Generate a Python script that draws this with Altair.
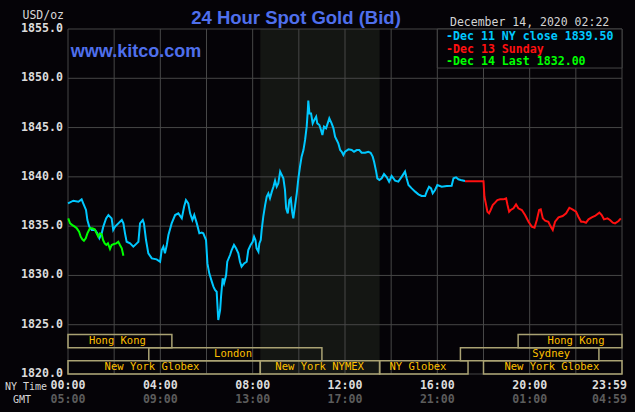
import altair as alt
import pandas as pd

# ---------------- data ----------------
dec11_hours = [0.0, 0.23, 0.45, 0.59, 0.66, 0.78, 0.84, 0.92, 1.03, 1.17, 1.27, 1.36, 1.46, 1.53, 1.65, 1.75, 1.89, 1.96, 2.04, 2.18,
               2.33, 2.40, 2.47, 2.54, 2.69, 2.83, 2.98, 3.05, 3.12, 3.24, 3.29, 3.38, 3.48, 3.63, 3.84, 3.99, 4.06, 4.13, 4.20, 4.28,
               4.35, 4.49, 4.64, 4.78, 4.93, 5.03, 5.11, 5.21, 5.29, 5.39, 5.47, 5.58, 5.69, 5.79, 5.86, 5.98, 6.04, 6.12, 6.23, 6.30,
               6.37, 6.44, 6.51, 6.59, 6.63, 6.70, 6.76, 6.85, 6.90, 7.02, 7.09, 7.19, 7.28, 7.38, 7.45, 7.52, 7.63, 7.74, 7.81, 7.91,
               8.00, 8.06, 8.12, 8.17, 8.25, 8.29, 8.35, 8.39, 8.46, 8.54, 8.61, 8.68, 8.75, 8.83, 8.90, 8.97, 9.04, 9.11, 9.19, 9.26,
               9.33, 9.40, 9.45, 9.52, 9.59, 9.65, 9.71, 9.76, 9.84, 9.91, 9.98, 10.05, 10.12, 10.20, 10.27, 10.34, 10.39, 10.41, 10.46, 10.53,
               10.60, 10.67, 10.75, 10.80, 10.89, 10.96, 11.02, 11.09, 11.18, 11.25, 11.32, 11.42, 11.50, 11.57, 11.64, 11.71, 11.79, 11.86, 11.93, 12.00,
               12.15, 12.29, 12.39, 12.51, 12.62, 12.72, 12.87, 13.01, 13.11, 13.20, 13.26, 13.35, 13.40, 13.49, 13.59, 13.69, 13.81, 13.91, 14.02, 14.17,
               14.31, 14.46, 14.60, 14.67, 14.75, 14.89, 15.04, 15.18, 15.32, 15.47, 15.54, 15.64, 15.73, 15.80, 15.90, 16.00, 16.19, 16.41, 16.62, 16.70,
               16.81, 16.91, 17.01, 17.20]
dec11_prices = [1837.31, 1837.58, 1837.48, 1837.72, 1837.31, 1836.64, 1835.62, 1834.95, 1834.61, 1834.61, 1834.27, 1833.76, 1834.27, 1834.95, 1835.79, 1836.13, 1835.79, 1834.61, 1834.95, 1835.28,
                1835.62, 1835.28, 1834.27, 1833.42, 1833.25, 1832.92, 1833.25, 1833.42, 1835.28, 1835.62, 1835.28, 1833.59, 1832.24, 1831.73, 1831.63, 1831.39, 1832.58, 1832.92, 1832.24, 1833.09,
                1834.10, 1835.28, 1836.13, 1836.30, 1835.79, 1836.97, 1837.65, 1837.31, 1836.30, 1835.62, 1836.13, 1835.28, 1834.27, 1834.34, 1834.27, 1833.59, 1831.22, 1830.21, 1829.37, 1828.86,
                1828.52, 1828.35, 1825.48, 1826.49, 1827.84, 1829.70, 1829.20, 1830.04, 1831.39, 1832.07, 1832.58, 1833.09, 1832.75, 1832.24, 1831.39, 1830.89, 1831.22, 1831.39, 1832.58, 1833.09,
                1833.42, 1833.93, 1833.59, 1832.75, 1832.41, 1833.25, 1833.59, 1834.61, 1835.96, 1837.14, 1837.99, 1838.33, 1837.82, 1838.50, 1839.00, 1839.61, 1839.00, 1839.34, 1840.53, 1840.19,
                1839.85, 1838.67, 1836.80, 1836.30, 1837.65, 1837.82, 1836.47, 1835.79, 1837.14, 1838.33, 1839.85, 1841.03, 1842.05, 1842.72, 1843.74, 1845.09, 1846.78, 1847.73, 1846.44, 1846.44,
                1845.43, 1845.77, 1846.10, 1845.43, 1845.26, 1844.75, 1844.25, 1845.09, 1844.92, 1845.43, 1845.94, 1845.43, 1844.92, 1844.08, 1843.74, 1843.40, 1842.72, 1842.55, 1842.22, 1842.55,
                1842.79, 1842.72, 1842.55, 1842.72, 1842.72, 1842.45, 1842.45, 1842.55, 1842.45, 1842.05, 1841.54, 1840.53, 1839.85, 1839.68, 1839.85, 1840.29, 1839.95, 1839.51, 1840.09, 1839.61,
                1839.51, 1840.02, 1840.53, 1839.85, 1839.17, 1838.83, 1838.50, 1838.23, 1838.06, 1838.06, 1838.50, 1839.00, 1838.83, 1838.33, 1838.67, 1839.17, 1839.00, 1839.07, 1839.10, 1839.85,
                1839.95, 1839.75, 1839.68, 1839.58]

dec13_hours = [17.20, 18.00, 18.04, 18.10, 18.17, 18.24, 18.31, 18.40, 18.50, 18.60, 18.72, 18.86, 18.98, 19.04, 19.11, 19.18, 19.30, 19.41, 19.51, 19.66,
               19.80, 19.95, 20.09, 20.21, 20.31, 20.41, 20.48, 20.57, 20.67, 20.81, 20.91, 21.00, 21.10, 21.25, 21.43, 21.58, 21.72, 21.85, 22.01, 22.11,
               22.23, 22.33, 22.44, 22.55, 22.69, 22.83, 23.02, 23.12, 23.22, 23.37, 23.48, 23.60, 23.70, 23.85, 23.95]
dec13_prices = [1839.55, 1839.55, 1838.00, 1837.31, 1836.47, 1836.30, 1836.64, 1837.14, 1837.38, 1837.65, 1837.72, 1837.72, 1837.82, 1837.14, 1836.47, 1836.64, 1836.81, 1837.21, 1836.81, 1836.64,
                1836.13, 1835.45, 1834.95, 1834.84, 1835.62, 1836.64, 1836.71, 1835.79, 1835.56, 1835.45, 1834.95, 1834.61, 1835.45, 1835.89, 1836.03, 1836.30, 1836.87, 1836.71, 1836.47, 1835.96,
                1835.45, 1835.45, 1835.35, 1835.69, 1835.89, 1836.03, 1836.37, 1836.13, 1835.69, 1835.79, 1835.62, 1835.35, 1835.28, 1835.52, 1835.79]

dec14_hours = [0.01, 0.09, 0.19, 0.29, 0.38, 0.48, 0.55, 0.62, 0.69, 0.77, 0.84, 0.95, 1.05, 1.16, 1.24, 1.31, 1.39, 1.46, 1.52, 1.59,
               1.66, 1.73, 1.82, 1.89, 1.99, 2.09, 2.18, 2.25, 2.33, 2.40]
dec14_prices = [1835.79, 1835.28, 1835.11, 1834.95, 1834.78, 1834.44, 1833.93, 1833.66, 1833.52, 1833.76, 1834.27, 1834.78, 1834.78, 1834.68, 1834.27, 1833.93, 1834.27, 1834.17, 1833.59, 1833.25,
                1833.09, 1833.25, 1832.68, 1833.09, 1833.19, 1833.25, 1833.42, 1833.09, 1832.75, 1832.00]

series_names = ["Dec 11", "Dec 13", "Dec 14"]
legend_lines = ["-Dec 11 NY close 1839.50", "-Dec 13 Sunday", "-Dec 14 Last 1832.00"]
series_colors = ["#00c8ff", "#ff1010", "#00ff00"]

price_ticks = [1820, 1825, 1830, 1835, 1840, 1845, 1850, 1855]
hour_grid = list(range(0, 25, 2))
ny_tick_hours = [0, 4, 8, 12, 16, 20]
ny_tick_labels = ["00:00", "04:00", "08:00", "12:00", "16:00", "20:00"]
gmt_tick_labels = ["05:00", "09:00", "13:00", "17:00", "21:00", "01:00"]
last_ny_label, last_gmt_label = "23:59", "04:59"

session_names = ["Hong Kong", "London", "New York Globex", "New York NYMEX", "NY Globex", "New York Globex", "Sydney", "Hong Kong"]
session_start = [0.0, 3.5, 0.0, 8.33, 13.5, 18.0, 17.0, 19.5]
session_end = [4.5, 11.0, 8.33, 13.5, 17.33, 24.0, 23.0, 24.0]
session_row = [1, 2, 3, 3, 3, 3, 2, 1]
session_label_hour = [2.14, 7.15, 3.64, 10.9, 15.16, 20.96, 20.93, 22.01]

nymex_start, nymex_end = 8.33, 13.5

# ---------------- styling ----------------
BG = "#050307"
GRID = "#474747"
SHADE = "#141613"
MONO = "DejaVu Sans Mono"
SANS = "Liberation Sans"
W, H = 554, 345
PMIN, PMAX = 1820, 1855

xs = alt.Scale(domain=[0, 24], nice=False, zero=False)
ys = alt.Scale(domain=[PMIN, PMAX], nice=False, zero=False)

# ---------------- frames ----------------
rows = []
for name, hs, ps in zip(series_names, [dec11_hours, dec13_hours, dec14_hours], [dec11_prices, dec13_prices, dec14_prices]):
    for h, p in zip(hs, ps):
        rows.append({"series": name, "hour": h, "price": p})
lines_df = pd.DataFrame(rows)

row_h = 4.0 / 3.0
sess_df = pd.DataFrame({
    "name": session_names, "start": session_start, "end": session_end,
    "lo": [PMIN + (3 - r) * row_h for r in session_row],
    "hi": [PMIN + (4 - r) * row_h for r in session_row],
    "lab": session_label_hour,
})
sess_df["mid"] = (sess_df["lo"] + sess_df["hi"]) / 2

# ---------------- layers ----------------
shade = alt.Chart(pd.DataFrame({"a": [nymex_start], "b": [nymex_end]})).mark_rect(color=SHADE).encode(
    x=alt.X("a:Q", scale=xs, axis=None), x2="b:Q",
    y=alt.value(0), y2=alt.value(H))

vgrid = alt.Chart(pd.DataFrame({"h": hour_grid})).mark_rule(color=GRID, strokeWidth=1).encode(
    x=alt.X("h:Q", scale=xs, axis=None), y=alt.value(0), y2=alt.value(H))
hgrid = alt.Chart(pd.DataFrame({"p": price_ticks})).mark_rule(color=GRID, strokeWidth=1).encode(
    y=alt.Y("p:Q", scale=ys, axis=None), x=alt.value(0), x2=alt.value(W))

sess_box = alt.Chart(sess_df).mark_rect(fill=None, stroke="#aaa273", strokeWidth=1.5).encode(
    x=alt.X("start:Q", scale=xs, axis=None), x2="end:Q",
    y=alt.Y("lo:Q", scale=ys, axis=None), y2="hi:Q")
sess_txt = alt.Chart(sess_df).mark_text(font=MONO, fontSize=10.5, color="#ffc000", baseline="middle").encode(
    x=alt.X("lab:Q", scale=xs, axis=None), y=alt.Y("mid:Q", scale=ys, axis=None), text="name:N")

lines = alt.Chart(lines_df).mark_line(strokeWidth=2, interpolate="linear").encode(
    x=alt.X("hour:Q", scale=xs, axis=None),
    y=alt.Y("price:Q", scale=ys, axis=None),
    color=alt.Color("series:N", scale=alt.Scale(domain=series_names, range=series_colors), legend=None),
    order=alt.Order("hour:Q"))

legend_box = alt.Chart(pd.DataFrame({"a": [16.0], "b": [24.0], "lo": [1851.04], "hi": [1855.0]})).mark_rect(
    fill=BG, stroke=GRID, strokeWidth=1).encode(
    x=alt.X("a:Q", scale=xs, axis=None), x2="b:Q", y=alt.Y("lo:Q", scale=ys, axis=None), y2="hi:Q")


def label(txt, x, y, **props):
    return alt.Chart(pd.DataFrame({"t": [txt]})).mark_text(**props).encode(
        x=alt.value(x), y=alt.value(y), text="t:N")


legend_layers = [
    label(t, 378, yy, font=MONO, fontSize=11.6, fontWeight="bold", color=c, align="left", baseline="alphabetic")
    for t, c, yy in zip(legend_lines, series_colors, [11, 23.5, 36])
]

ylab = alt.Chart(pd.DataFrame({"p": price_ticks})).mark_text(
    font=MONO, fontSize=11.6, fontWeight="bold", color="#dcdcdc", align="right", baseline="middle").encode(
    y=alt.Y("p:Q", scale=ys, axis=None), x=alt.value(-5), text=alt.Text("p:Q", format=".1f"))

ny_df = pd.DataFrame({"h": ny_tick_hours, "ny": ny_tick_labels, "gmt": gmt_tick_labels})
ny_txt = alt.Chart(ny_df).mark_text(font=MONO, fontSize=11.6, fontWeight="bold", color="#dcdcdc", baseline="middle").encode(
    x=alt.X("h:Q", scale=xs, axis=None), y=alt.value(356.5), text="ny:N")
gmt_txt = alt.Chart(ny_df).mark_text(font=MONO, fontSize=11.6, fontWeight="bold", color="#5c5c5c", baseline="middle").encode(
    x=alt.X("h:Q", scale=xs, axis=None), y=alt.value(370.5), text="gmt:N")
last_df = pd.DataFrame({"h": [24], "ny": [last_ny_label], "gmt": [last_gmt_label]})
ny_last = alt.Chart(last_df).mark_text(font=MONO, fontSize=11.6, fontWeight="bold", color="#dcdcdc", baseline="middle",
                                       align="right", dx=5).encode(
    x=alt.X("h:Q", scale=xs, axis=None), y=alt.value(356.5), text="ny:N")
gmt_last = alt.Chart(last_df).mark_text(font=MONO, fontSize=11.6, fontWeight="bold", color="#5c5c5c", baseline="middle",
                                        align="right", dx=5).encode(
    x=alt.X("h:Q", scale=xs, axis=None), y=alt.value(370.5), text="gmt:N")

title = label("24 Hour Spot Gold (Bid)", 228, -5, font=SANS, fontSize=18.5, fontWeight="bold",
              color="#4f6fec", align="center", baseline="alphabetic")
kitco = label("www.kitco.com", 68, 28, font=SANS, fontSize=18, fontWeight="bold",
              color="#4f6fec", align="center", baseline="alphabetic")
usd = label("USD/oz", -4, -10, font=MONO, fontSize=11.5, color="#d8d8d8", align="right", baseline="alphabetic")
stamp = label("December 14, 2020 02:22", 382, -3, font=MONO, fontSize=11.5, color="#d4d4d4",
              align="left", baseline="alphabetic")
nytime = label("NY Time", -42, 358, font=MONO, fontSize=10, color="#d8d8d8", align="center", baseline="middle")
gmt = label("GMT", -46, 371, font=MONO, fontSize=10, color="#d8d8d8", align="center", baseline="middle")

chart = alt.layer(
    shade, vgrid, hgrid, sess_box, sess_txt, lines, legend_box, *legend_layers,
    ylab, ny_txt, gmt_txt, ny_last, gmt_last, title, kitco, usd, stamp, nytime, gmt
).properties(
    width=W, height=H,
    autosize=alt.AutoSizeParams(type="none"),
    padding={"left": 68, "top": 29, "right": 13, "bottom": 38},
    background=BG,
).configure_view(stroke=None)

chart.save("out.html", embed_options={"renderer": "svg", "actions": False})
